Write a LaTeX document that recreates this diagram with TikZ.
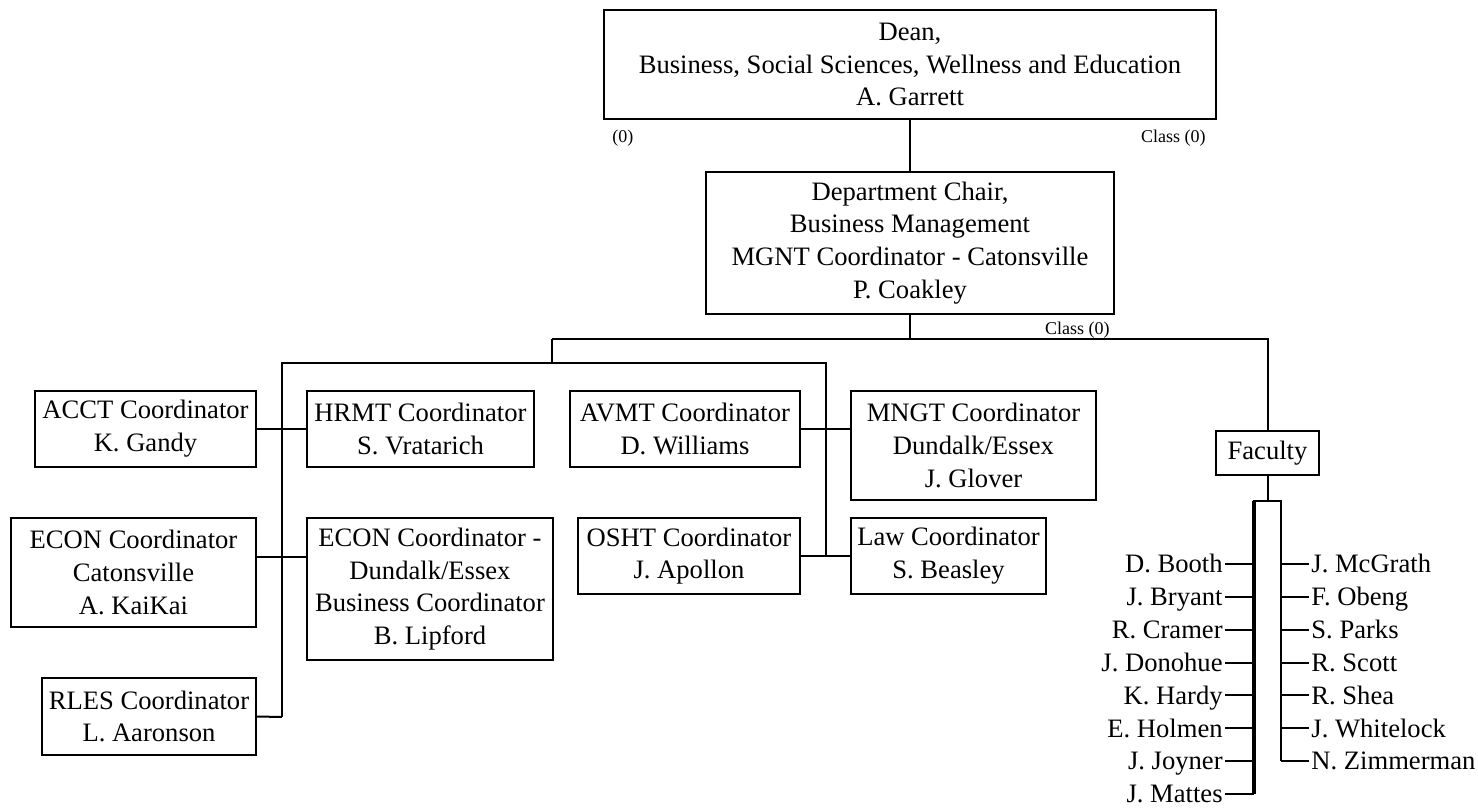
\documentclass[tikz,border=0pt]{standalone}
\usepackage{fontspec}
\setmainfont{Liberation Serif}
\begin{document}
\begin{tikzpicture}[x=0.5pt,y=-0.5pt,
  box/.style={draw, line width=1pt, inner sep=0pt, align=center, font=\fontsize{13.3pt}{16.4pt}\selectfont},
  conn/.style={line width=1pt},
  lbl/.style={font=\fontsize{9pt}{10.8pt}\selectfont, inner sep=0pt},
  person/.style={font=\fontsize{13.3pt}{16.4pt}\selectfont, inner ysep=0pt, inner xsep=1pt, text height=8.8pt, text depth=0pt}]
\useasboundingbox (0,0) rectangle (1478,808);

% boxes
\node[box, minimum width=306pt, minimum height=54.5pt] (dean) at (910,64.5) {Dean,\\Business, Social Sciences, Wellness and Education\\A. Garrett};
\node[box, minimum width=204pt, minimum height=71pt] (chair) at (910,243) {Department Chair,\\Business Management\\MGNT Coordinator - Catonsville\\P. Coakley};
\node[box, minimum width=110.5pt, minimum height=38pt] (acct) at (145.5,429) {ACCT Coordinator\\K. Gandy};
\node[box, minimum width=113.5pt, minimum height=38pt] (hrmt) at (420.5,429) {HRMT Coordinator\\S. Vratarich};
\node[box, minimum width=122.5pt, minimum height=54.5pt] (econc) at (133.5,572.5) {ECON Coordinator\\Catonsville\\A. KaiKai};
\node[box, minimum width=123pt, minimum height=71pt] (econd) at (430,589) {ECON Coordinator -\\Dundalk/Essex\\Business Coordinator\\B. Lipford};
\node[box, minimum width=107pt, minimum height=38.5pt] (rles) at (149,716.5) {RLES Coordinator\\L. Aaronson};
\node[box, minimum width=115pt, minimum height=38pt] (avmt) at (685,429) {AVMT Coordinator\\D. Williams};
\node[box, minimum width=122.5pt, minimum height=54.5pt] (mngt) at (973.5,445.5) {MNGT Coordinator\\Dundalk/Essex\\J. Glover};
\node[box, minimum width=111pt, minimum height=38pt] (osht) at (689,556) {OSHT Coordinator\\J. Apollon};
\node[box, minimum width=97.5pt, minimum height=38pt] (law) at (948.5,556) {Law Coordinator\\S. Beasley};
\node[box, minimum width=51.5pt, minimum height=22pt] (faculty) at (1267.5,453) {Faculty};

% small labels
\node[lbl, anchor=west] (l0) at (612,138) {(0)};
\node[lbl, anchor=east] (l1) at (1206,138) {Class (0)};
\node[lbl, anchor=east] (l2) at (1110,330) {Class (0)};

% junction coordinates
\coordinate (hub) at (910,339);
\coordinate (hl) at (552,339);
\coordinate (hr) at (1267.5,339);
\coordinate (ml) at (552,363);
\coordinate (tl) at (282,363);
\coordinate (tr) at (826,363);
\coordinate (tlb) at (282,717);
\coordinate (trb) at (826,557);
\coordinate (busc) at (1267.5,501);
\coordinate (bl) at (1254,501);
\coordinate (br) at (1281,501);
\coordinate (blb) at (1254,794);
\coordinate (brb) at (1281,761);

% connectors
\draw[conn] (dean.south) -- (chair.north);
\draw[conn] (chair.south) -- (hub);
\draw[conn] (hl) -- (hr) -- (faculty.north);
\draw[conn] (hl) -- (ml);
\draw[conn] (tlb) -- (tl) -- (tr) -- (trb);
\draw[conn] (acct.east) -- (hrmt.west);
\draw[conn] (econc.east |- trb) -- (econd.west |- trb);
\draw[conn] (rles.east) -- (tlb);
\draw[conn] (avmt.east) -- (mngt.west |- avmt.east);
\draw[conn] (osht.east) -- (law.west);
\draw[conn] (faculty.south) -- (busc);
\draw[conn] (blb) -- (bl) -- (br) -- (brb);
\draw[line width=1.7pt] (bl) -- (blb);

% faculty names
\foreach \n [count=\i from 0] in {D. Booth, J. Bryant, R. Cramer, J. Donohue, K. Hardy, E. Holmen, J. Joyner, J. Mattes}{
  \pgfmathsetmacro{\yy}{564+32.86*\i}
  \node[person, anchor=east] (lf\i) at (1225,\yy) {\n};
  \draw[conn] (lf\i.east) -- (bl |- lf\i.east);
}
\foreach \n [count=\i from 0] in {J. McGrath, F. Obeng, S. Parks, R. Scott, R. Shea, J. Whitelock, N. Zimmerman}{
  \pgfmathsetmacro{\yy}{564+32.86*\i}
  \node[person, anchor=west] (rf\i) at (1309,\yy) {\n};
  \draw[conn] (br |- rf\i.west) -- (rf\i.west);
}
\end{tikzpicture}
\end{document}
